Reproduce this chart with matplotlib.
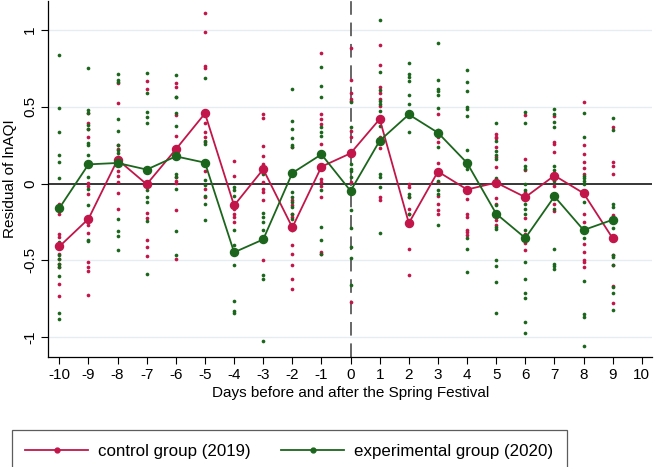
import matplotlib
matplotlib.use("Agg")
import matplotlib.pyplot as plt
from matplotlib.lines import Line2D

plt.rcParams['font.family'] = ['Liberation Sans', 'DejaVu Sans']

RED = '#C2164A'
GRN = '#1B661C'

days = list(range(-10, 10))

# daily means of residuals
ctrl_mean = [-0.41, -0.23, 0.156, -0.005, 0.223, 0.457, -0.143, 0.093, -0.286, 0.11,
             0.197, 0.42, -0.258, 0.078, -0.039, 0.006, -0.089, 0.052, -0.063, -0.357]
exp_mean = [-0.16, 0.125, 0.134, 0.091, 0.177, 0.136, -0.448, -0.364, 0.069, 0.19,
            -0.048, 0.279, 0.45, 0.331, 0.134, -0.197, -0.355, -0.084, -0.303, -0.236]

# city-level residuals per day (control 2019)
ctrl_pts = [
    [-0.132, -0.154, -0.197, -0.327, -0.348, -0.392, -0.457, -0.489, -0.522, -0.543, -0.652, -0.734],
    [0.457, 0.392, 0.355, 0.301, 0.002, -0.017, -0.067, -0.273, -0.32, -0.51, -0.543, -0.571, -0.729],
    [0.658, 0.522, 0.251, 0.225, 0.171, 0.128, 0.084, 0.052, 0.009, -0.061, -0.169],
    [0.669, 0.615, -0.19, -0.223, -0.37, -0.413, -0.47],
    [0.652, 0.63, 0.448, 0.312, 0.041, 0.019, 0.002, -0.175, -0.489],
    [1.113, 0.987, 0.764, 0.751, 0.394, 0.333, 0.301, 0.268, 0.084, -0.035, -0.089],
    [0.145, 0.052, -0.128, -0.165, -0.197, -0.219, -0.251],
    [0.452, 0.426, 0.247, 0.177, 0.128, 0.009, -0.035, -0.056, -0.106, -0.496],
    [0.236, -0.11, -0.143, -0.197, -0.219, -0.403, -0.457, -0.532, -0.619, -0.684],
    [0.853, 0.452, 0.42, 0.387, 0.258, 0.03, 0.009, -0.013, -0.089, -0.446, -0.457],
    [0.885, 0.675, 0.593, 0.55, 0.539, 0.344, 0.301, 0.009, -0.771],
    [0.903, 0.771, 0.626, 0.593, 0.55, 0.502, 0.301, 0.229, -0.089, -0.106],
    [-0.002, -0.024, -0.089, -0.165, -0.197, -0.424, -0.597],
    [0.452, 0.344, 0.301, 0.268, 0.132, 0.009, -0.084, -0.132, -0.171, -0.201],
    [-0.1, -0.197, -0.219, -0.301, -0.316, -0.338],
    [0.323, 0.305, 0.297, 0.236, 0.171, 0.106, -0.095, -0.132, -0.219, -0.24, -0.273],
    [0.446, 0.16, 0.089, -0.056, -0.223, -0.327, -0.387, -0.431],
    [0.442, 0.268, 0.258, 0.203, -0.013, -0.067, -0.132, -0.18],
    [0.528, 0.253, 0.193, 0.139, 0.102, 0.063, -0.197, -0.251, -0.392, -0.446, -0.5, -0.511, -0.543],
    [0.37, 0.139, 0.117, 0.063, -0.208, -0.251, -0.468, -0.532, -0.669, -0.781],
]

# experimental 2020
exp_pts = [
    [0.838, 0.489, 0.338, 0.188, 0.141, 0.039, -0.381, -0.413, -0.467, -0.494, -0.522, -0.543, -0.6, -0.842, -0.885],
    [0.751, 0.48, 0.457, 0.383, 0.353, 0.264, 0.251, 0.186, 0.041, -0.035, -0.143, -0.37, -0.376],
    [0.712, 0.675, 0.662, 0.418, 0.34, 0.253, 0.221, 0.197, 0.149, -0.234, -0.312, -0.342, -0.431],
    [0.723, 0.587, 0.468, 0.431, 0.392, -0.041, -0.089, -0.123, -0.245, -0.587],
    [0.706, 0.565, 0.561, 0.457, 0.377, 0.063, 0.041, -0.035, -0.31, -0.468],
    [0.686, 0.279, 0.258, 0.024, -0.009, -0.078, -0.136, -0.236],
    [-0.024, -0.045, -0.078, -0.301, -0.403, -0.532, -0.764, -0.829, -0.842],
    [0.063, -0.19, -0.219, -0.251, -0.305, -0.597, -0.619, -1.024],
    [0.615, 0.405, 0.355, 0.297, 0.253, 0.236, -0.056, -0.089, -0.121, -0.154, -0.197, -0.229, -0.305],
    [0.762, 0.636, 0.561, 0.366, 0.333, 0.312, -0.045, -0.284, -0.37, -0.457],
    [0.528, 0.366, 0.182, 0.128, 0.095, 0.084, 0.041, -0.171, -0.29, -0.413, -0.485, -0.662],
    [1.065, 0.729, 0.608, 0.539, 0.515, 0.474, 0.372, 0.063, 0.045, -0.024, -0.323],
    [0.788, 0.716, 0.695, 0.669, 0.576, 0.517, 0.338, -0.067, -0.089, -0.197],
    [0.918, 0.675, 0.615, 0.6, 0.578, 0.489, 0.348, 0.24, 0.019, -0.041, -0.067, -0.273],
    [0.738, 0.662, 0.6, 0.5, 0.485, 0.437, 0.221, 0.095, -0.355, -0.424, -0.576],
    [0.392, 0.279, 0.214, 0.188, 0.16, 0.037, -0.143, -0.284, -0.294, -0.5, -0.537, -0.641, -0.842],
    [0.468, 0.392, 0.115, 0.095, -0.002, -0.045, -0.11, -0.136, -0.165, -0.197, -0.301, -0.511, -0.619, -0.716, -0.745, -0.9, -0.976],
    [0.485, 0.452, 0.403, 0.366, 0.117, 0.089, 0.019, -0.165, -0.426, -0.522, -0.539, -0.556],
    [0.459, 0.301, 0.052, 0.037, 0.019, -0.002, -0.121, -0.353, -0.634, -0.851, -0.872, -1.058],
    [0.426, 0.351, -0.132, -0.154, -0.288, -0.468, -0.478, -0.532, -0.673, -0.712, -0.825],
]

xticks = list(range(-10, 11))
yticks = [-1, -0.5, 0, 0.5, 1]
ytick_labels = ['-1', '-0.5', '0', '0.5', '1']

fig = plt.figure(figsize=(6.54, 4.67), dpi=100)
ax = fig.add_axes([0.0734, 0.2355, 0.924, 0.762])

for yv in [-1, -0.5, 0.5, 1]:
    ax.axhline(yv, color='#E6EDF0', lw=1.0, zorder=0)
ax.axhline(0, color='black', lw=1.1, zorder=1)
ax.axvline(0, color='#666666', lw=1.4, ls=(0, (7, 4)), zorder=1)

# scatter of individual residuals
for d, ys in zip(days, ctrl_pts):
    ax.scatter([d] * len(ys), ys, s=7, color=RED, lw=0, zorder=2)
for d, ys in zip(days, exp_pts):
    ax.scatter([d] * len(ys), ys, s=7, color=GRN, lw=0, zorder=2)

ax.plot(days, ctrl_mean, color=RED, lw=1.3, marker='o', ms=5.8, zorder=3)
ax.plot(days, exp_mean, color=GRN, lw=1.3, marker='o', ms=5.8, zorder=4)

ax.set_xlim(-10.39, 10.36)
ax.set_ylim(-1.13, 1.188)
ax.set_xticks(xticks)
ax.set_xticklabels([str(t) for t in xticks])
ax.set_yticks(yticks)
ax.set_yticklabels(ytick_labels, rotation=90, va='center')
ax.tick_params(axis='both', labelsize=11, length=5, width=0.8, color='black', pad=3)
for s in ['top', 'right']:
    ax.spines[s].set_visible(False)
for s in ['left', 'bottom']:
    ax.spines[s].set_linewidth(0.9)

ax.set_xlabel('Days before and after the Spring Festival', fontsize=11, labelpad=3)
ax.set_ylabel('Residual of lnAQI', fontsize=11, labelpad=4)

handles = [Line2D([], [], color=RED, lw=1.3, marker='o', ms=3.5),
           Line2D([], [], color=GRN, lw=1.3, marker='o', ms=3.5)]
leg = fig.legend(handles, ['control group (2019)', 'experimental group (2020)'],
                 loc='lower left', bbox_to_anchor=(0.005, -0.03), ncol=2,
                 fontsize=12.2, frameon=True, fancybox=False, handlelength=3.7,
                 handletextpad=0.6, columnspacing=1.8, borderpad=0.8)
leg.get_frame().set_edgecolor('#333333')
leg.get_frame().set_linewidth(0.9)

fig.savefig('out.png', dpi=100)
